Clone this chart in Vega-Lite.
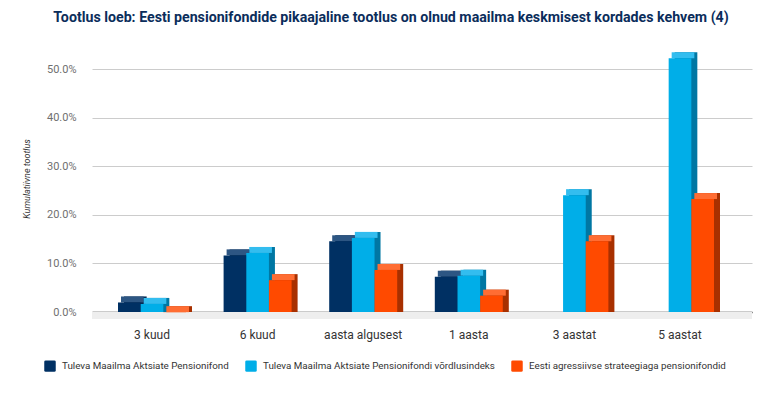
{
  "$schema": "https://vega.github.io/schema/vega-lite/v6.json",
  "width": 660,
  "height": 267,
  "autosize": {"type": "none"},
  "padding": {"left": 92, "top": 45, "right": 20, "bottom": 81},
  "background": "white",
  "config": {"view": {"stroke": null}, "font": "Roboto"},
  "title": {
    "text": "Tootlus loeb: Eesti pensionifondide pikaajaline tootlus on olnud maailma keskmisest kordades kehvem (4)",
    "anchor": "middle",
    "dx": -31,
    "offset": 20,
    "font": "Roboto",
    "fontSize": 14.2,
    "fontWeight": "bold",
    "color": "#0b2d5b"
  },
  "layer": [
    {
      "data": {"values": [{"base": 0}]},
      "mark": {"type": "rect", "color": "#eeeeee", "y2Offset": 7},
      "encoding": {
        "y": {
          "field": "base",
          "type": "quantitative",
          "scale": {"domain": [0, 0.55], "nice": false},
          "axis": {
            "values": [0, 0.1, 0.2, 0.3, 0.4, 0.5],
            "format": ".1%",
            "grid": true,
            "gridColor": "#cccccc",
            "domain": false,
            "ticks": false,
            "labelPadding": 16,
            "labelFont": "Roboto",
            "labelFontSize": 11,
            "labelColor": "#6f6f6f",
            "title": "Kumulatiivne tootlus",
            "titleFont": "Roboto",
            "titleFontStyle": "italic",
            "titleFontWeight": "normal",
            "titleFontSize": 9,
            "titleColor": "#333333",
            "titlePadding": 15
          }
        },
        "y2": {"field": "base"}
      }
    },
    {
      "data": {
        "values": [
          {"periood": "3 kuud", "seeria": "Tuleva Maailma Aktsiate Pensionifond", "tootlus": 0.032},
          {"periood": "3 kuud", "seeria": "Tuleva Maailma Aktsiate Pensionifondi võrdlusindeks", "tootlus": 0.029},
          {"periood": "3 kuud", "seeria": "Eesti agressiivse strateegiaga pensionifondid", "tootlus": 0.012},
          {"periood": "6 kuud", "seeria": "Tuleva Maailma Aktsiate Pensionifond", "tootlus": 0.129},
          {"periood": "6 kuud", "seeria": "Tuleva Maailma Aktsiate Pensionifondi võrdlusindeks", "tootlus": 0.134},
          {"periood": "6 kuud", "seeria": "Eesti agressiivse strateegiaga pensionifondid", "tootlus": 0.078},
          {"periood": "aasta algusest", "seeria": "Tuleva Maailma Aktsiate Pensionifond", "tootlus": 0.158},
          {"periood": "aasta algusest", "seeria": "Tuleva Maailma Aktsiate Pensionifondi võrdlusindeks", "tootlus": 0.165},
          {"periood": "aasta algusest", "seeria": "Eesti agressiivse strateegiaga pensionifondid", "tootlus": 0.099},
          {"periood": "1 aasta", "seeria": "Tuleva Maailma Aktsiate Pensionifond", "tootlus": 0.085},
          {"periood": "1 aasta", "seeria": "Tuleva Maailma Aktsiate Pensionifondi võrdlusindeks", "tootlus": 0.087},
          {"periood": "1 aasta", "seeria": "Eesti agressiivse strateegiaga pensionifondid", "tootlus": 0.046},
          {"periood": "3 aastat", "seeria": "Tuleva Maailma Aktsiate Pensionifondi võrdlusindeks", "tootlus": 0.253},
          {"periood": "3 aastat", "seeria": "Eesti agressiivse strateegiaga pensionifondid", "tootlus": 0.158},
          {"periood": "5 aastat", "seeria": "Tuleva Maailma Aktsiate Pensionifondi võrdlusindeks", "tootlus": 0.535},
          {"periood": "5 aastat", "seeria": "Eesti agressiivse strateegiaga pensionifondid", "tootlus": 0.245}
        ]
      },
      "encoding": {
        "x": {
          "field": "periood",
          "type": "nominal",
          "sort": ["3 kuud", "6 kuud", "aasta algusest", "1 aasta", "3 aastat", "5 aastat"],
          "scale": {"paddingInner": 0, "paddingOuter": 0.125},
          "axis": {
            "title": null,
            "labelAngle": 0,
            "labelFont": "Roboto",
            "labelFontSize": 12,
            "labelColor": "#333333",
            "labelPadding": 17,
            "labelOffset": -6,
            "ticks": false,
            "domain": true,
            "domainColor": "#333333",
            "domainWidth": 1.5,
            "grid": false
          }
        },
        "y": {
          "field": "tootlus",
          "type": "quantitative",
          "stack": null,
          "scale": {"domain": [0, 0.55], "nice": false},
          "axis": {
            "values": [0, 0.1, 0.2, 0.3, 0.4, 0.5],
            "format": ".1%",
            "grid": true,
            "gridColor": "#cccccc",
            "domain": false,
            "ticks": false,
            "labelPadding": 16,
            "labelFont": "Roboto",
            "labelFontSize": 11,
            "labelColor": "#6f6f6f",
            "title": "Kumulatiivne tootlus",
            "titleFont": "Roboto",
            "titleFontStyle": "italic",
            "titleFontWeight": "normal",
            "titleFontSize": 9,
            "titleColor": "#333333",
            "titlePadding": 15
          }
        }
      },
      "layer": [
        {
          "mark": {"type": "bar"},
          "encoding": {
            "xOffset": {
              "field": "seeria",
              "type": "nominal",
              "scale": {
                "domain": ["Tuleva Maailma Aktsiate Pensionifond", "Tuleva Maailma Aktsiate Pensionifondi võrdlusindeks", "Eesti agressiivse strateegiaga pensionifondid"],
                "range": [18.8, 86.8],
                "paddingInner": 0,
                "paddingOuter": 0
              }
            },
            "color": {
              "field": "seeria",
              "type": "nominal",
              "scale": {
                "domain": ["Tuleva Maailma Aktsiate Pensionifond", "Tuleva Maailma Aktsiate Pensionifondi võrdlusindeks", "Eesti agressiivse strateegiaga pensionifondid"],
                "range": ["#00234a", "#0077a3", "#a83000"]
              },
              "legend": null
            }
          }
        },
        {
          "mark": {"type": "bar", "y2Offset": 6},
          "encoding": {
            "y2": {"field": "tootlus"},
            "xOffset": {
              "field": "seeria",
              "type": "nominal",
              "scale": {
                "domain": ["Tuleva Maailma Aktsiate Pensionifond", "Tuleva Maailma Aktsiate Pensionifondi võrdlusindeks", "Eesti agressiivse strateegiaga pensionifondid"],
                "range": [15.8, 83.8],
                "paddingInner": 0,
                "paddingOuter": 0
              }
            },
            "color": {
              "field": "seeria",
              "type": "nominal",
              "scale": {
                "domain": ["Tuleva Maailma Aktsiate Pensionifond", "Tuleva Maailma Aktsiate Pensionifondi võrdlusindeks", "Eesti agressiivse strateegiaga pensionifondid"],
                "range": ["#2d5683", "#33bdef", "#ff6d33"]
              },
              "legend": null
            }
          }
        },
        {
          "mark": {"type": "bar", "yOffset": 6, "y2Offset": 6},
          "encoding": {
            "xOffset": {
              "field": "seeria",
              "type": "nominal",
              "scale": {
                "domain": ["Tuleva Maailma Aktsiate Pensionifond", "Tuleva Maailma Aktsiate Pensionifondi võrdlusindeks", "Eesti agressiivse strateegiaga pensionifondid"],
                "range": [12.8, 80.8],
                "paddingInner": 0,
                "paddingOuter": 0
              }
            },
            "color": {
              "field": "seeria",
              "type": "nominal",
              "scale": {
                "domain": ["Tuleva Maailma Aktsiate Pensionifond", "Tuleva Maailma Aktsiate Pensionifondi võrdlusindeks", "Eesti agressiivse strateegiaga pensionifondid"],
                "range": ["#003063", "#00aee8", "#ff4a00"]
              },
              "legend": {
                "title": null,
                "orient": "none",
                "legendX": -48,
                "legendY": 315,
                "direction": "horizontal",
                "symbolType": "M-0.75,-1H0.75Q1,-1 1,-0.75V0.75Q1,1 0.75,1H-0.75Q-1,1 -1,0.75V-0.75Q-1,-1 -0.75,-1Z",
                "symbolSize": 132,
                "symbolStrokeWidth": 0,
                "labelFont": "Roboto",
                "labelFontSize": 9.8,
                "labelColor": "#333333",
                "labelOffset": 6,
                "labelLimit": 400,
                "columnPadding": 16
              }
            }
          }
        }
      ],
      "resolve": {"scale": {"xOffset": "independent", "color": "independent"}}
    }
  ]
}
